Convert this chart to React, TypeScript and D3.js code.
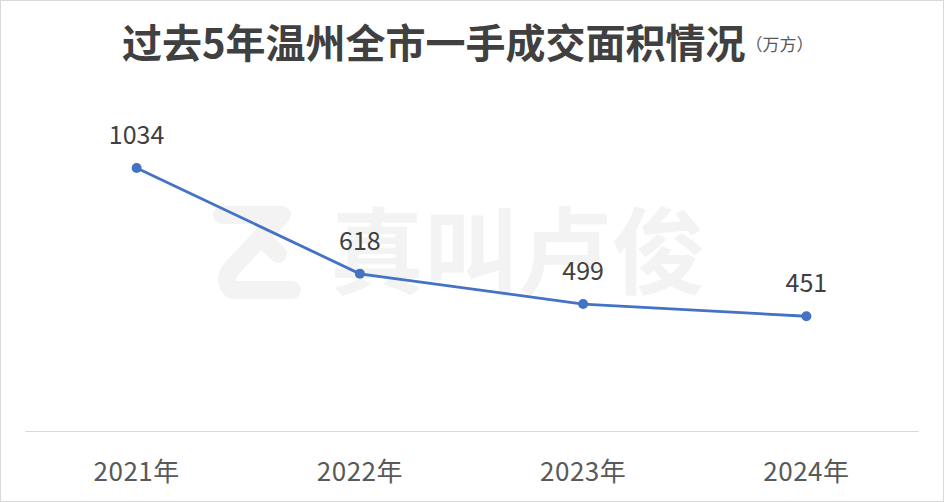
import { useEffect, useRef } from "react";
import * as d3 from "d3";

const years: string[] = ["2021年", "2022年", "2023年", "2024年"];
const areas: number[] = [1034, 618, 499, 451];
const title = "过去5年温州全市一手成交面积情况";
const unit = "（万方）";
const watermark = "真叫卢俊";

const W = 944;
const H = 502;
const FONT = "'Noto Sans CJK SC', 'Noto Sans', sans-serif";

export default function App() {
  const svgRef = useRef<SVGSVGElement | null>(null);

  useEffect(() => {
    if (!svgRef.current) return;
    const svg = d3.select(svgRef.current);
    svg.selectAll("*").remove();

    svg.attr("width", W).attr("height", H);

    svg
      .append("rect")
      .attr("x", 0.5)
      .attr("y", 0.5)
      .attr("width", W - 1)
      .attr("height", H - 1)
      .attr("fill", "#fff")
      .attr("stroke", "#d9d9d9");

    // watermark
    const wm = svg.append("g");
    wm.append("path")
      .attr(
        "d",
        "M222,215 L282,215 L232,268 Q222,280 232,290 L292,290 M262,238 L278,254"
      )
      .attr("fill", "none")
      .attr("stroke", "#f3f3f3")
      .attr("stroke-width", 18)
      .attr("stroke-linecap", "round")
      .attr("stroke-linejoin", "round");
    wm.append("text")
      .attr("x", 330)
      .attr("y", 287)
      .attr("font-family", FONT)
      .attr("font-size", 94)
      .attr("font-weight", 700)
      .attr("fill", "#f3f3f3")
      .text(watermark);

    const x = d3
      .scaleBand<string>()
      .domain(years)
      .range([25, 918])
      .padding(0);

    const y = d3.scaleLinear().domain([0, 1200]).range([431, 125.7]);

    const cx = (d: string) => (x(d) ?? 0) + x.bandwidth() / 2;

    // axis
    const axis = svg
      .append("g")
      .attr("transform", `translate(0,${y(0)})`)
      .call(d3.axisBottom(x).tickSize(0));
    axis.select(".domain").attr("stroke", "#d9d9d9").attr("stroke-width", 1.2);
    axis
      .selectAll("text")
      .attr("y", 50)
      .attr("dy", 0)
      .attr("font-family", FONT)
      .attr("font-size", 26)
      .attr("letter-spacing", 0.5)
      .attr("fill", "#595959");

    const pts = years.map((d, i) => ({ year: d, v: areas[i] }));

    const line = d3
      .line<{ year: string; v: number }>()
      .x((d) => cx(d.year))
      .y((d) => y(d.v));

    svg
      .append("path")
      .datum(pts)
      .attr("d", line)
      .attr("fill", "none")
      .attr("stroke", "#4472c4")
      .attr("stroke-width", 2.8);

    svg
      .append("g")
      .selectAll("circle")
      .data(pts)
      .enter()
      .append("circle")
      .attr("cx", (d) => cx(d.year))
      .attr("cy", (d) => y(d.v))
      .attr("r", 5)
      .attr("fill", "#4472c4");

    svg
      .append("g")
      .selectAll("text")
      .data(pts)
      .enter()
      .append("text")
      .attr("x", (d) => cx(d.year))
      .attr("y", (d) => y(d.v) - 24)
      .attr("text-anchor", "middle")
      .attr("font-family", FONT)
      .attr("font-size", 25)
      .attr("fill", "#404040")
      .text((d) => d.v);

    // title
    const t = svg
      .append("text")
      .attr("x", 122)
      .attr("y", 58)
      .attr("font-family", FONT);
    t.append("tspan")
      .attr("font-size", 40)
      .attr("font-weight", 700)
      .attr("fill", "#404040")
      .text(title);
    t.append("tspan")
      .attr("font-size", 17)
      .attr("dy", -7)
      .attr("fill", "#595959")
      .text(unit);
  }, []);

  return (
    <div style={{ position: "fixed", left: 0, top: 0 }}>
      <svg ref={svgRef}></svg>
    </div>
  );
}
